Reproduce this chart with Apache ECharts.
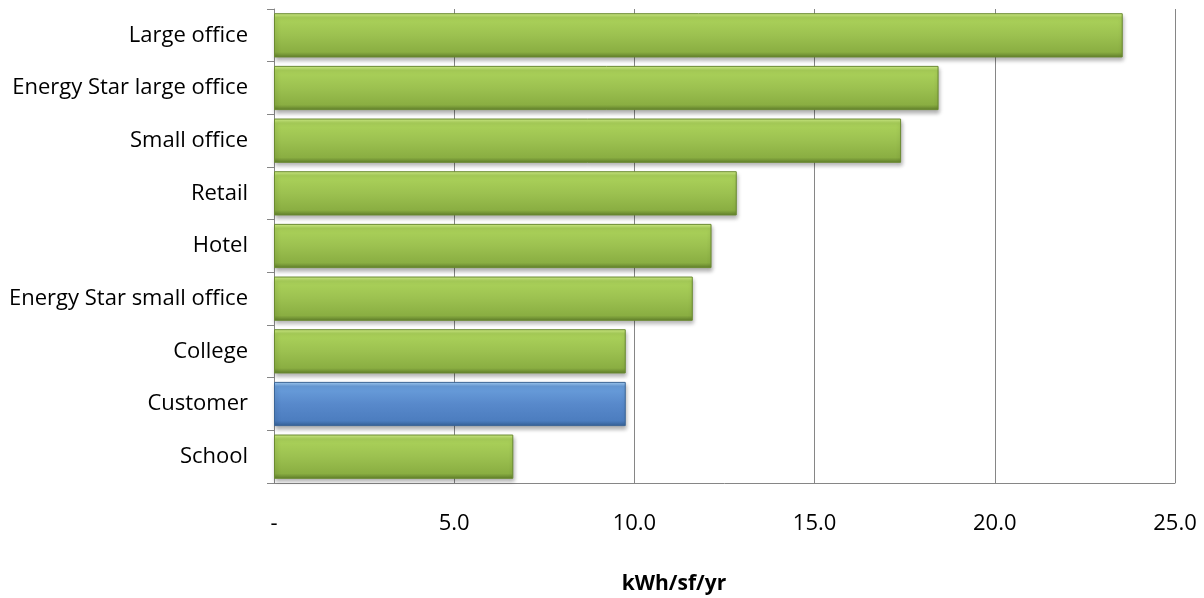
<!DOCTYPE html>
<html><head><meta charset="utf-8">
<script src="https://cdn.jsdelivr.net/npm/echarts@6/dist/echarts.min.js"></script>
<style>html,body{margin:0;padding:0;background:#fff}#c{width:1204px;height:598px}</style>
</head><body><div id="c"></div>
<script>
const categories = ["Large office","Energy Star large office","Small office","Retail","Hotel","Energy Star small office","College","Customer","School"];
const values = [23.55, 18.44, 17.40, 12.84, 12.14, 11.62, 9.76, 9.76, 6.64];
const highlight = "Customer";
const xTicks = [0, 5, 10, 15, 20, 25];
const axisTitle = "kWh/sf/yr";

const green = new echarts.graphic.LinearGradient(0,0,0,1,[
  {offset:0,color:'#d2f08a'},{offset:0.1,color:'#abd25a'},{offset:0.5,color:'#9cc150'},{offset:0.88,color:'#8aae42'},{offset:1,color:'#5f7d2a'}]);
const blue = new echarts.graphic.LinearGradient(0,0,0,1,[
  {offset:0,color:'#a8d2f7'},{offset:0.1,color:'#6a9fdc'},{offset:0.5,color:'#5889cb'},{offset:0.88,color:'#4c7dbf'},{offset:1,color:'#355f94'}]);

const chart = echarts.init(document.getElementById('c'));
chart.setOption({
  animation:false,
  grid:{left:274,right:29,top:9,bottom:115},
  xAxis:{type:'value',min:xTicks[0],max:xTicks[xTicks.length-1],interval:xTicks[1]-xTicks[0],
    axisLine:{show:true,lineStyle:{color:'#868686',width:1}},
    axisTick:{show:false},
    splitLine:{show:true,lineStyle:{color:'#868686',width:1}},
    axisLabel:{margin:30,fontFamily:'Open Sans',fontSize:22,color:'#000',
      formatter:v=>v===0?'-':v.toFixed(1)}},
  yAxis:{type:'category',data:categories,inverse:true,
    axisLine:{show:true,lineStyle:{color:'#868686',width:1}},
    axisTick:{show:true,length:7,lineStyle:{color:'#868686'}},
    axisLabel:{margin:26,fontFamily:'Open Sans',fontSize:22,color:'#000'}},
  graphic:[{type:'text',x:674,y:584,
    style:{text:axisTitle,font:'bold 21px "Open Sans"',fill:'#000',align:'center',verticalAlign:'middle'}}],
  series:[{type:'bar',barCategoryGap:'16%',
    data:values.map((v,i)=>({value:v,itemStyle:{color:categories[i]===highlight?blue:green,
      borderColor:categories[i]===highlight?'#3b6596':'#6a8a30',borderWidth:1,
      shadowColor:'rgba(0,0,0,0.3)',shadowBlur:4,shadowOffsetY:3,shadowOffsetX:1}})),
  }]
});
</script></body></html>
